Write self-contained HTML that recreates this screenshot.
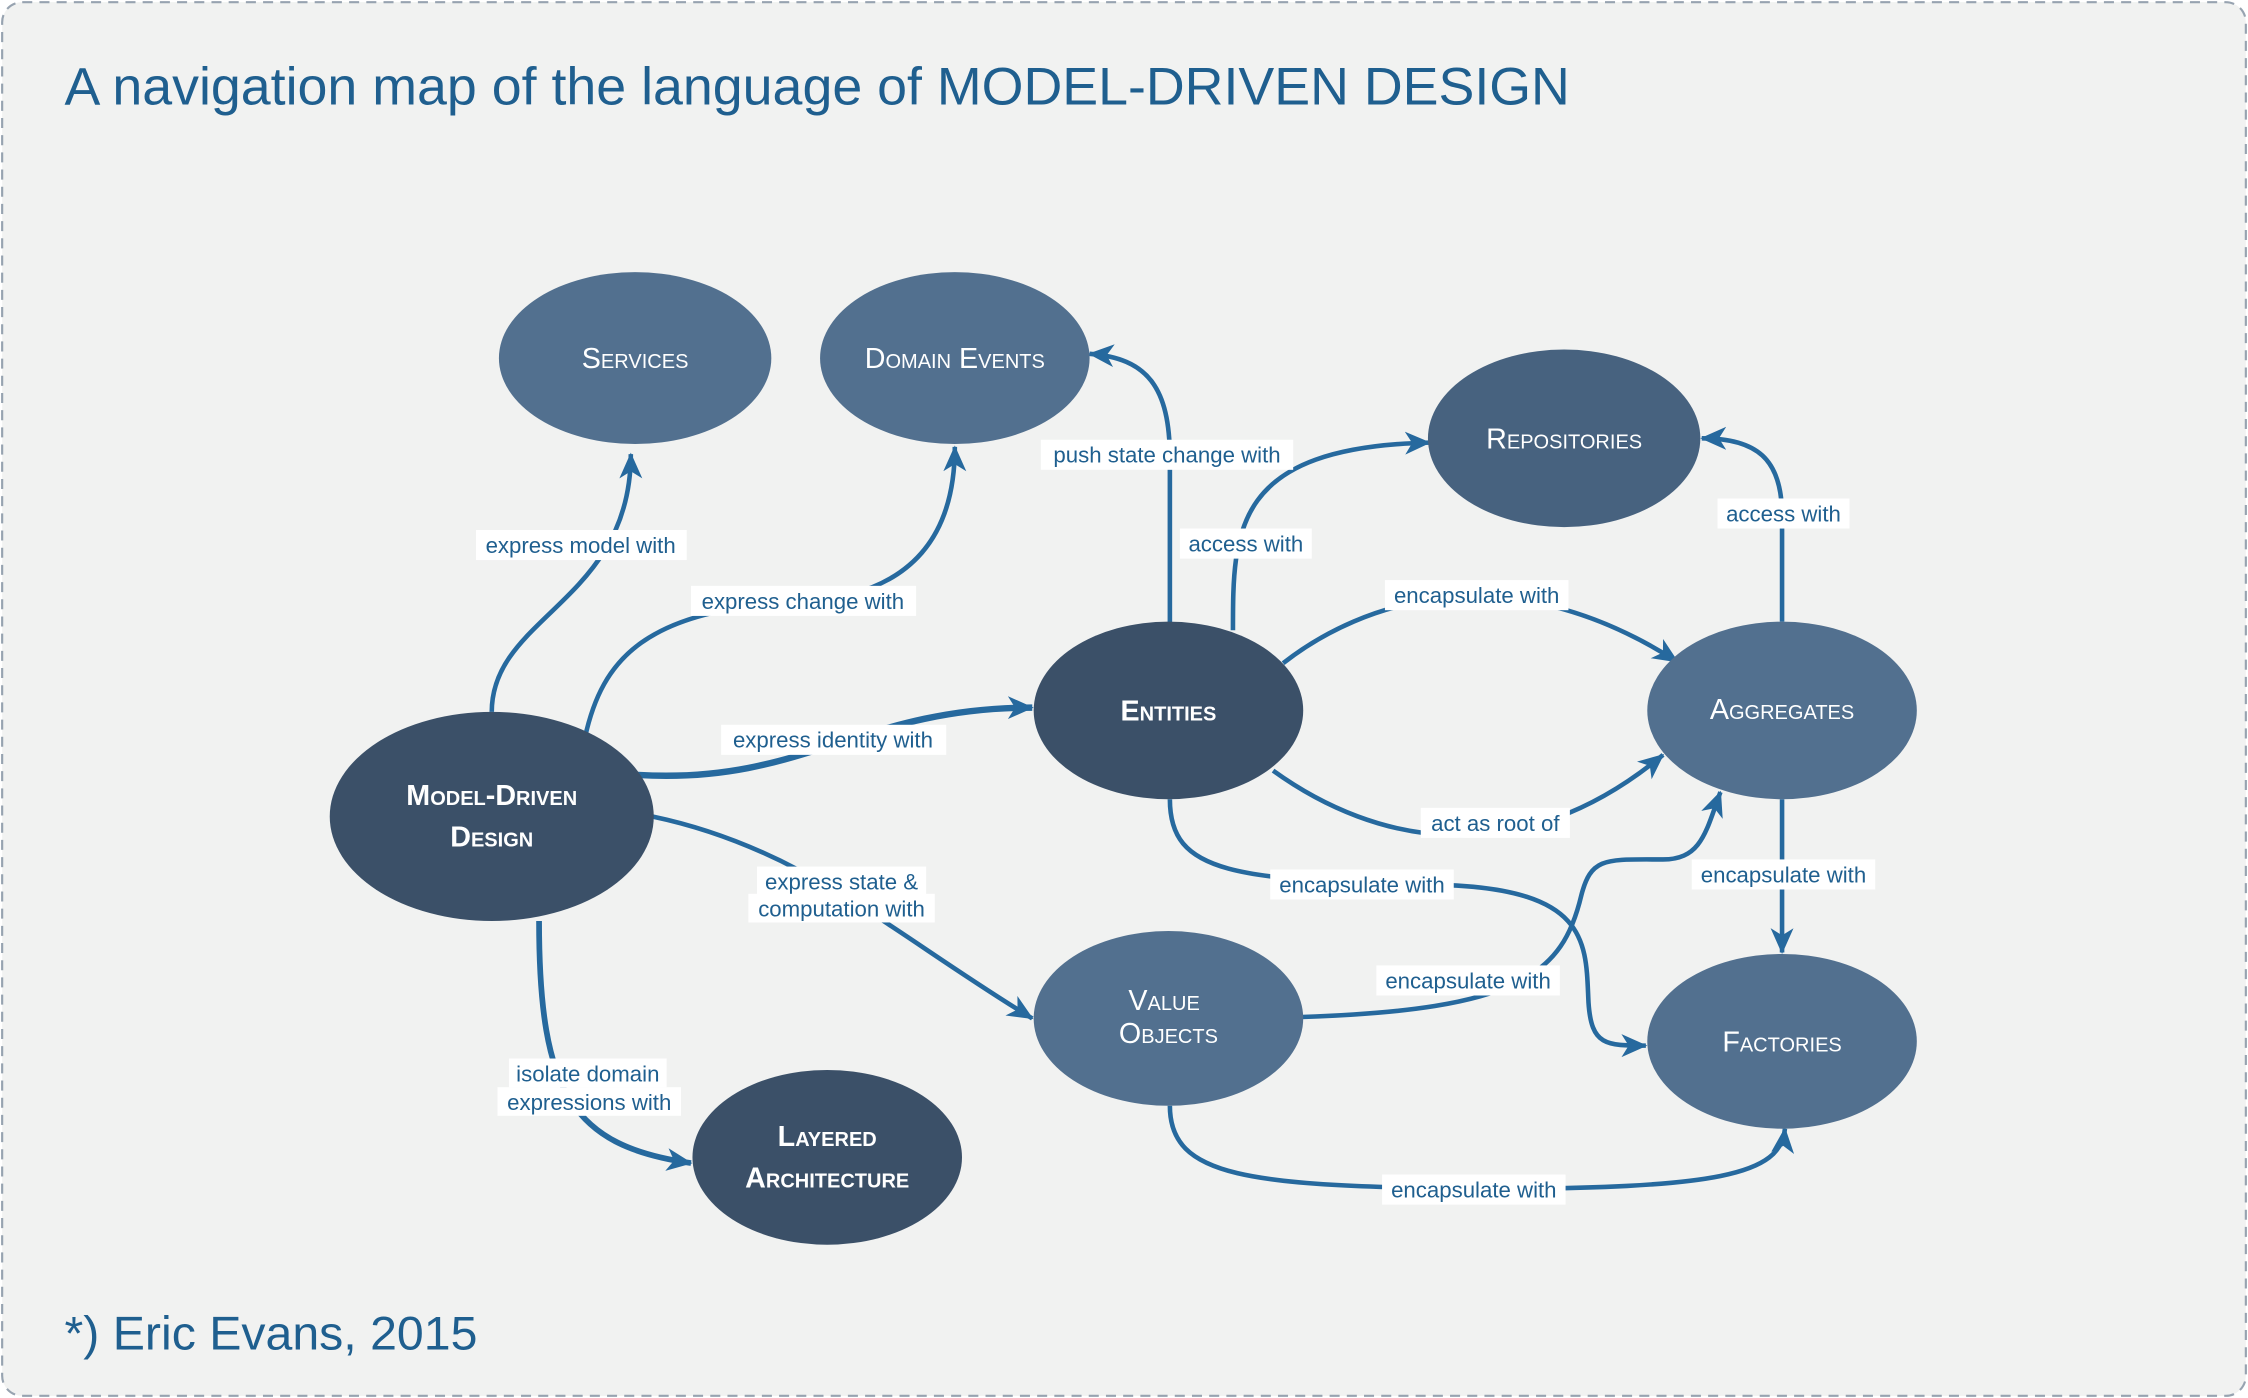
<!DOCTYPE html>
<html><head><meta charset="utf-8"><style>
html,body{margin:0;padding:0;background:#fff;}
svg{display:block;}
.lbl{font-family:"Liberation Sans",sans-serif;font-size:15.5px;fill:#1f5f8f;text-anchor:middle;}
.nd{font-family:"Liberation Sans",sans-serif;fill:#fff;text-anchor:middle;font-variant:small-caps;font-size:20px;}
.bd{font-weight:bold;font-size:20px;}
.e{fill:none;stroke:#26699e;stroke-width:3.2;marker-end:url(#ah);}
</style></head><body>
<svg width="2248" height="1398" viewBox="0 0 1568 976" preserveAspectRatio="none" xmlns="http://www.w3.org/2000/svg">
<defs>
<marker id="ah" markerUnits="userSpaceOnUse" markerWidth="22" markerHeight="18" refX="17" refY="8" orient="auto">
<path d="M0,0 L18,8 L0,16 L5,8 z" fill="#26699e"/>
</marker>
</defs>
<rect x="1.5" y="1.5" width="1565" height="973" rx="14" fill="#f1f2f1" stroke="#97a3b0" stroke-width="1.5" stroke-dasharray="7,5"/>
<text x="45" y="73" font-family="Liberation Sans,sans-serif" font-size="37" fill="#1f5f8f" textLength="1050" lengthAdjust="spacingAndGlyphs">A navigation map of the language of MODEL-DRIVEN DESIGN</text>
<text x="45" y="942" font-family="Liberation Sans,sans-serif" font-size="33" fill="#1f5f8f" textLength="288" lengthAdjust="spacingAndGlyphs">*) Eric Evans, 2015</text>

<!-- edges -->
<path class="e" d="M343,497 C343,430 440,420 440,317"/>
<path class="e" d="M408,515 C420,460 450,425 560,420 C640,415 666,370 666,312"/>
<path class="e" style="stroke-width:4.5" d="M445,541 C560,548 600,494 720,494"/>
<path class="e" d="M455,570 C560,592 620,650 720,711"/>
<path class="e" style="stroke-width:4" d="M376,643 C376,765 400,800 482,812"/>
<path class="e" d="M816,435 L816,320 C816,270 800,250 760,247"/>
<path class="e" d="M860,440 C860,370 860,312 997,309"/>
<path class="e" d="M895,463 C950,420 1050,385 1170,462"/>
<path class="e" d="M888,538 C960,590 1060,610 1160,527"/>
<path class="e" d="M816,558 C816,610 860,615 1010,618 C1110,622 1106,660 1108,700 C1110,730 1120,730 1148,730"/>
<path class="e" d="M908,710 C1060,705 1090,680 1103,625 C1110,598 1120,600 1160,600 C1187,600 1190,580 1200,553"/>
<path class="e" d="M816,772 C816,822 870,828 1030,830 C1200,830 1242,820 1245,788"/>
<path class="e" d="M1243,434 L1243,360 C1243,320 1225,306 1187,306"/>
<path class="e" d="M1243,558 L1243,665"/>

<!-- nodes -->
<ellipse cx="443" cy="250" rx="95" ry="60" fill="#52708f"/>
<ellipse cx="666" cy="250" rx="94" ry="60" fill="#52708f"/>
<ellipse cx="1091" cy="306" rx="95" ry="62" fill="#47627f"/>
<ellipse cx="815" cy="496" rx="94" ry="62" fill="#3b5068"/>
<ellipse cx="1243" cy="496" rx="94" ry="62" fill="#52708f"/>
<ellipse cx="343" cy="570" rx="113" ry="73" fill="#3b5068"/>
<ellipse cx="815" cy="711" rx="94" ry="61" fill="#52708f"/>
<ellipse cx="1243" cy="727" rx="94" ry="61" fill="#52708f"/>
<ellipse cx="577" cy="808" rx="94" ry="61" fill="#3b5068"/>

<text class="nd" x="443" y="257">Services</text>
<text class="nd" x="666" y="257">Domain Events</text>
<text class="nd" x="1091" y="313">Repositories</text>
<text class="nd bd" x="815" y="503">Entities</text>
<text class="nd" x="1243" y="502">Aggregates</text>
<text class="nd bd" x="343" y="562">Model-Driven</text>
<text class="nd bd" x="343" y="591">Design</text>
<text class="nd" x="812" y="705">Value</text>
<text class="nd" x="815" y="728">Objects</text>
<text class="nd" x="1243" y="734">Factories</text>
<text class="nd bd" x="577" y="800">Layered</text>
<text class="nd bd" x="577" y="829">Architecture</text>

<!-- labels -->
<g>
<rect x="332" y="370" width="147" height="21" fill="#fff"/><text class="lbl" x="405" y="386">express model with</text>
<rect x="482" y="409" width="157" height="21" fill="#fff"/><text class="lbl" x="560" y="425">express change with</text>
<rect x="503" y="506" width="157" height="21" fill="#fff"/><text class="lbl" x="581" y="522">express identity with</text>
<rect x="528" y="605" width="118" height="20" fill="#fff"/><text class="lbl" x="587" y="621">express state &amp;</text>
<rect x="522" y="624" width="130" height="20" fill="#fff"/><text class="lbl" x="587" y="640">computation with</text>
<rect x="355" y="739" width="110" height="20" fill="#fff"/><text class="lbl" x="410" y="755">isolate domain</text>
<rect x="347" y="759" width="128" height="20" fill="#fff"/><text class="lbl" x="411" y="775">expressions with</text>
<rect x="726" y="307" width="176" height="21" fill="#fff"/><text class="lbl" x="814" y="323">push state change with</text>
<rect x="823" y="369" width="92" height="21" fill="#fff"/><text class="lbl" x="869" y="385">access with</text>
<rect x="966" y="405" width="128" height="21" fill="#fff"/><text class="lbl" x="1030" y="421">encapsulate with</text>
<rect x="991" y="564" width="104" height="21" fill="#fff"/><text class="lbl" x="1043" y="580">act as root of</text>
<rect x="886" y="607" width="128" height="21" fill="#fff"/><text class="lbl" x="950" y="623">encapsulate with</text>
<rect x="960" y="674" width="128" height="21" fill="#fff"/><text class="lbl" x="1024" y="690">encapsulate with</text>
<rect x="964" y="820" width="128" height="21" fill="#fff"/><text class="lbl" x="1028" y="836">encapsulate with</text>
<rect x="1198" y="348" width="92" height="21" fill="#fff"/><text class="lbl" x="1244" y="364">access with</text>
<rect x="1180" y="600" width="128" height="21" fill="#fff"/><text class="lbl" x="1244" y="616">encapsulate with</text>
</g>
</svg>
</body></html>
